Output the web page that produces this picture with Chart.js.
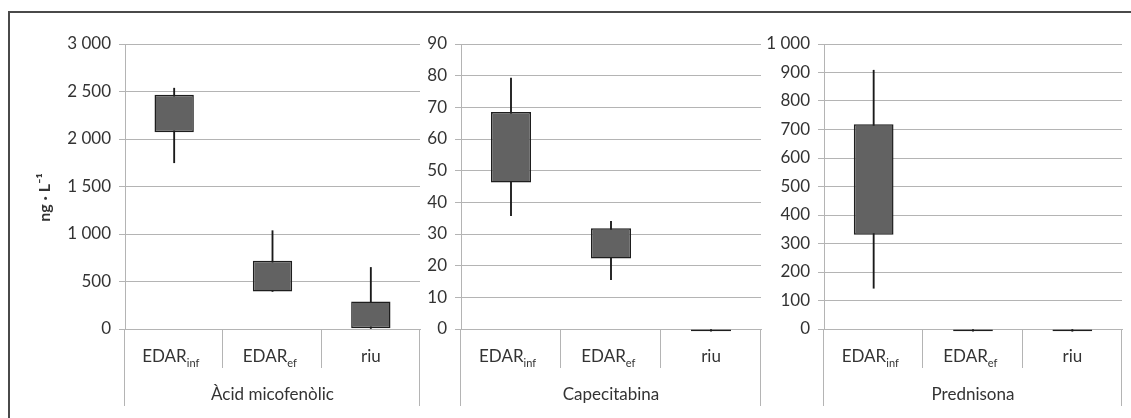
<!DOCTYPE html>
<html><head><meta charset="utf-8">
<script src="https://cdn.jsdelivr.net/npm/chart.js@4.4.1/dist/chart.umd.min.js"></script>
<style>
html,body{margin:0;padding:0;background:#fff;}
#wrap{position:relative;width:1131px;height:418px;overflow:hidden;background:#fff;}
#frame{position:absolute;left:8px;top:11px;width:1200px;height:500px;border-left:2px solid #4a4a4a;border-top:2px solid #4a4a4a;box-sizing:border-box;}
canvas{position:absolute;top:0;}
</style></head><body>
<div id="wrap"><div id="frame"></div>
<canvas id="c1" width="412" height="418" style="left:10px"></canvas>
<canvas id="c2" width="343" height="418" style="left:420px"></canvas>
<canvas id="c3" width="370" height="418" style="left:761px"></canvas>
</div>
<script>
const categories = ['EDAR_inf', 'EDAR_ef', 'riu'];
const groups = ['Àcid micofenòlic', 'Capecitabina', 'Prednisona'];
const yTitle = 'ng · L⁻¹';

const acidBoxLow  = [2070, 395, 8];
const acidBoxHigh = [2465, 718, 290];
const acidMin     = [1750, 395, 0];
const acidMax     = [2535, 1035, 648];

const capeBoxLow  = [46.3, 22.3, -0.7];
const capeBoxHigh = [68.5, 31.8, 0];
const capeMin     = [35.8, 15.6, -0.7];
const capeMax     = [79.2, 34, 0];

const predBoxLow  = [331, -8, -8];
const predBoxHigh = [718, 0, 0];
const predMin     = [143, -8, -8];
const predMax     = [908, 0, 0];

const yMaxes = [3000, 90, 1000];
const ySteps = [500, 10, 100];

const TEXT = '#333333';
const GRID = '#b4b4b4';
const FONT = 'Lato, "Open Sans", sans-serif';
const FS = 17;

function fmt(v){ return String(v).replace(/\B(?=(\d{3})+(?!\d))/g, ' '); }

const excelAxis = {
  id: 'excelAxis',
  afterDraw(chart, args, opts) {
    const {ctx, chartArea, scales: {x, y}} = chart;
    const n = categories.length;
    ctx.save();
    ctx.strokeStyle = GRID; ctx.lineWidth = 1;
    for (let i = 0; i <= n; i++) {
      let px;
      if (i === 0) px = chartArea.left;
      else if (i === n) px = chartArea.right;
      else px = (x.getPixelForValue(i - 1) + x.getPixelForValue(i)) / 2;
      px = Math.round(px) - 0.5;
      const bottom = (i === 0 || i === n) ? x.bottom : x.top + 39;
      ctx.beginPath(); ctx.moveTo(px, x.top); ctx.lineTo(px, bottom); ctx.stroke();
    }
    ctx.fillStyle = TEXT;
    ctx.textBaseline = 'alphabetic';
    ctx.textAlign = 'left';
    categories.forEach((lab, i) => {
      const [main, sub] = lab.split('_');
      const cx = x.getPixelForValue(i);
      ctx.font = FS + 'px ' + FONT;
      const wMain = ctx.measureText(main).width;
      const wSubFull = sub ? ctx.measureText(sub).width : 0;
      const start = cx - (wMain + wSubFull) / 2;
      ctx.fillText(main, start, x.top + 33);
      if (sub) {
        ctx.font = '11px ' + FONT;
        ctx.fillText(sub, start + wMain, x.top + 38);
      }
    });
    if (opts && opts.title) {
      ctx.translate(y.left + 35, (y.top + y.bottom) / 2 + 11);
      ctx.rotate(-Math.PI / 2);
      ctx.textAlign = 'center';
      ctx.textBaseline = 'middle';
      ctx.font = 'bold 16px ' + FONT;
      ctx.fillText(opts.title, 0, 0);
    }
    ctx.restore();
  }
};

function makeChart(id, idx, boxLow, boxHigh, mins, maxs, yWidth, padRight, showTitle) {
  const boxes = boxLow.map((v, i) => [v, boxHigh[i]]);
  const whiskers = mins.map((v, i) => [v, maxs[i]]);
  return new Chart(document.getElementById(id), {
    type: 'bar',
    data: {
      labels: categories,
      datasets: [
        { data: boxes, backgroundColor: '#626262', borderColor: '#1e1e1e', borderWidth: 1.5,
          borderSkipped: false, barPercentage: 0.4, categoryPercentage: 1, grouped: false, clip: 6 },
        { data: whiskers, backgroundColor: '#1a1a1a', borderWidth: 0, barThickness: 1.2, grouped: false, clip: 6 }
      ]
    },
    options: {
      responsive: false, animation: false,
      layout: { padding: { top: 44, bottom: 12, left: 0, right: padRight } },
      plugins: { legend: { display: false }, tooltip: { enabled: false }, excelAxis: { title: showTitle ? yTitle : null } },
      scales: {
        x: {
          offset: true,
          grid: { display: false },
          border: { display: true, color: GRID },
          ticks: { display: false },
          title: { display: true, text: groups[idx], color: TEXT, font: { family: FONT, size: FS }, padding: { top: 0, bottom: 1 } },
          afterFit: s => { s.height = 77; }
        },
        y: {
          min: 0, max: yMaxes[idx],
          ticks: { stepSize: ySteps[idx], color: TEXT, font: { family: FONT, size: FS }, padding: 8, callback: v => fmt(v) },
          grid: { color: GRID, lineWidth: 1, tickLength: 6 },
          border: { color: GRID },
          afterFit: s => { s.width = yWidth; }
        }
      }
    },
    plugins: [excelAxis]
  });
}

makeChart('c1', 0, acidBoxLow, acidBoxHigh, acidMin, acidMax, 115, 2, true);
makeChart('c2', 1, capeBoxLow, capeBoxHigh, capeMin, capeMax, 41, 2, false);
makeChart('c3', 2, predBoxLow, predBoxHigh, predMin, predMax, 63, 9, false);
</script>
</body></html>
